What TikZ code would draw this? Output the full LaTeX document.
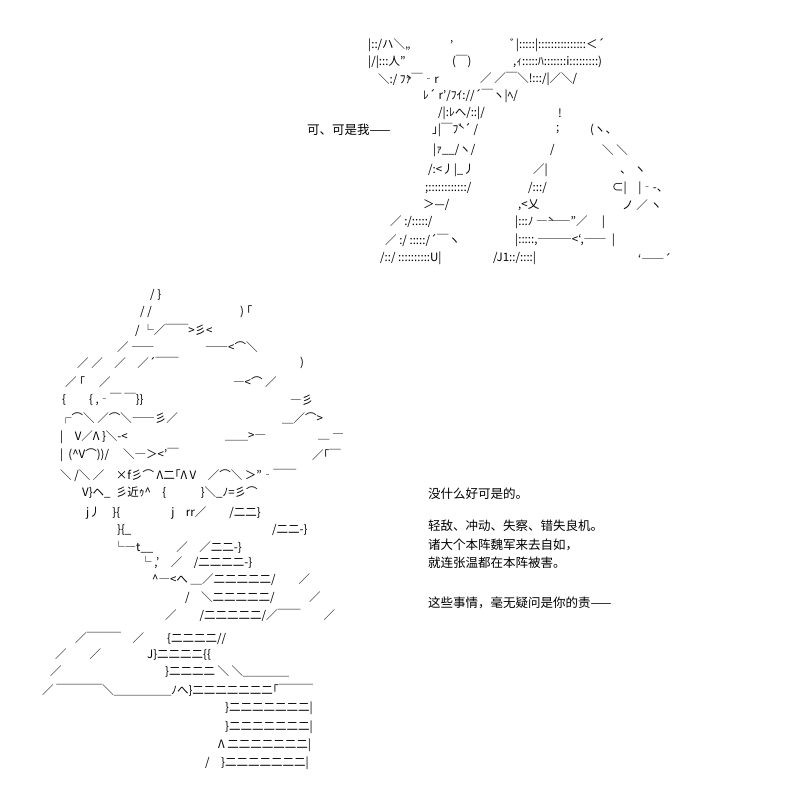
\documentclass[tikz,border=0pt]{standalone}
\usepackage{fontspec}
\setmainfont{Noto Sans CJK JP}
\begin{document}
\begin{tikzpicture}[x=1pt,y=-1pt, every text node part/.style={align=left}]
        \tikzset{
          aa/.style={anchor=west,inner sep=0pt,font=\fontsize{11.5}{13}\selectfont},
          say/.style={anchor=west,inner sep=0pt,font=\fontsize{12.5}{18.5}\selectfont},
        }
        \useasboundingbox (0,0) rectangle (787,802);
        % upper figure
        \node [aa](u1a) at (368,45) {|::/ハ＼„};
        \node [aa](u1b) at (450,45) {’};
        \node [aa](u1c) at (510,45) {ﾞ|:::::|:::::::::::::::＜´};
        \node [aa](u2a) at (368,62) {|/|:::人"};
        \node [aa](u2b) at (452,62) {(￣)};
        \node [aa](u2c) at (513,62) {,ｨ:::::ﾊ:::::::i:::::::::)};
        \node [aa](u3a) at (378,79) {＼:/ \`ﾌｧ￣‐r};
        \node [aa](u3b) at (480,79) {／ ／￣＼!:::/|／＼/};
        \node [aa](u4a) at (423,96) {ﾚ´ r'/ﾌｲ://´￣ヽ|ﾍ/};
        \node [aa](u5a) at (438,113) {/|:ﾚへ/::|/};
        \node [aa](u5b) at (558,113) {!};
        \node [say](ka) at (307,130) {可、可是我——};
        \node [aa](u6a) at (432,130) {｣|￣\`ﾌﾞ´ /};
        \node [aa](u6b) at (556,130) {;};
        \node [aa](u6c) at (590,130) {(ヽ、};
        \node [aa](u7a) at (433,150) {|ｧ\_\_/ヽ/};
        \node [aa](u7b) at (550,150) {/};
        \node [aa](u7c) at (602,150) {＼ ＼};
        \node [aa](u8a) at (428,170) {/:<丿|\_丿};
        \node [aa](u8b) at (533,170) {／|};
        \node [aa](u8c) at (620,170) {、 ヽ};
        \node [aa](u9a) at (425,188) {;::::::::::::/};
        \node [aa](u9b) at (528,188) {/:::/};
        \node [aa](u9c) at (612,188) {⊂|\quad |‐-、};
        \node [aa](u10a) at (423,205) {＞---/};
        \node [aa](u10b) at (518,205) {,<乂};
        \node [aa](u10c) at (622,205) {ノ\ ／ ヽ};
        \node [aa](u11a) at (390,222) {／ :/:::::/};
        \node [aa](u11b) at (515,222) {|:::ﾉ\ \`―――''／\quad\ |};
        \node [aa](u12a) at (385,240) {／ :/ :::::/´￣ヽ};
        \node [aa](u12b) at (515,240) {|:::::,―――<`,――\ \ |};
        \node [aa](u13a) at (380,258) {/::/ ::::::::::U|};
        \node [aa](u13b) at (493,258) {/J1::/::::|};
        \node [aa](u13c) at (638,258) {`――´};
        % lower figure
        \node [aa](l1a) at (150,295) {/ \}};
        \node [aa](l2a) at (140,312) {/ /};
        \node [aa](l2b) at (240,312) {) ｢};
        \node [aa](l3a) at (135,330) {/ └／￣￣>彡<};
        \node [aa](l4a) at (117,347) {／ ――};
        \node [aa](l4b) at (205,347) {――<⌒＼};
        \node [aa](l5a) at (77,363) {／ ／\quad ／\quad ／´￣￣};
        \node [aa](l5b) at (300,363) {)};
        \node [aa](l6a) at (65,382) {／ ｢\quad\ ／};
        \node [aa](l6b) at (233,382) {―<⌒ ／};
        \node [aa](l7a) at (62,400) {\{\qquad \{ ,‐￣ ￣\}\}};
        \node [aa](l7b) at (290,400) {―彡};
        \node [aa](l8a) at (60,418) {┌⌒＼ ／⌒＼――彡／};
        \node [aa](l8b) at (282,418) {＿／⌒>};
        \node [aa](l9a) at (60,437) {|\quad V／Λ \}＼-<};
        \node [aa](l9b) at (225,437) {＿＿>―};
        \node [aa](l9c) at (318,437) {＿ ―};
        \node [aa](l10a) at (60,455) {|\ \ (\^{}V⌒))/ \quad ＼―＞<'￣};
        \node [aa](l10b) at (312,455) {／｢￣};
        \node [aa](l11a) at (60,475) {＼ /＼ ／\quad ×f彡⌒ Λ二｢Λ V\quad ／⌒＼ ＞"‐￣￣};
        \node [aa](l12a) at (82,493) {V\}ヘ\_\ \ 彡近ｩ\^{}\quad \{\qquad\quad \}＼\_ﾉ=彡⌒};
        \node [aa](l13a) at (86,513) {j丿\quad \}\{\qquad\qquad\ \ j\quad rr／\qquad /二二\}};
        \node [aa](l14a) at (117,530) {\}\{\_};
        \node [aa](l14b) at (272,530) {/二二-\}};
        \node [aa](l15a) at (113,547) {└―t\_\_\qquad ／\quad ／二二-\}};
        \node [aa](l16a) at (140,563) {└ ,'\quad ／\quad /二二二二-\}};
        \node [aa](l17a) at (152,580) {\^{}―<へ\ ＿／二二二二二/\qquad ／};
        \node [aa](l18a) at (185,598) {/\quad ＼二二二二二/\quad\qquad ／};
        \node [aa](l19a) at (165,615) {／\qquad /二二二二二/／￣￣\qquad ／};
        \node [aa](l20a) at (75,638) {／￣￣￣\quad ／\qquad \{二二二二//};
        \node [aa](l21a) at (55,655) {／\qquad ／\qquad\qquad J\}二二二二\{\{};
        \node [aa](l22a) at (50,672) {／\qquad\qquad\qquad\qquad\quad \}二二二二 ＼\ ＼＿＿＿＿};
        \node [aa](l23a) at (42,690) {／~￣￣￣￣＼＿＿＿＿＿ﾉへ\}二二二二二二二｢￣￣￣};
        \node [aa](l24a) at (225,708) {\}二二二二二二二|};
        \node [aa](l25a) at (225,727) {\}二二二二二二二|};
        \node [aa](l26a) at (218,745) {Λ 二二二二二二二|};
        \node [aa](l27a) at (205,763) {/\quad \}二二二二二二二|};
        % speech
        \node [say](s1) at (428,494) {没什么好可是的。};
        \node [say,anchor=north west](s2) at (428,520) {轻敌、冲动、失察、错失良机。\\诸大个本阵魏军来去自如，\\就连张温都在本阵被害。};
        \node [say](s3) at (428,603) {这些事情，毫无疑问是你的责——};
\end{tikzpicture}
\end{document}
